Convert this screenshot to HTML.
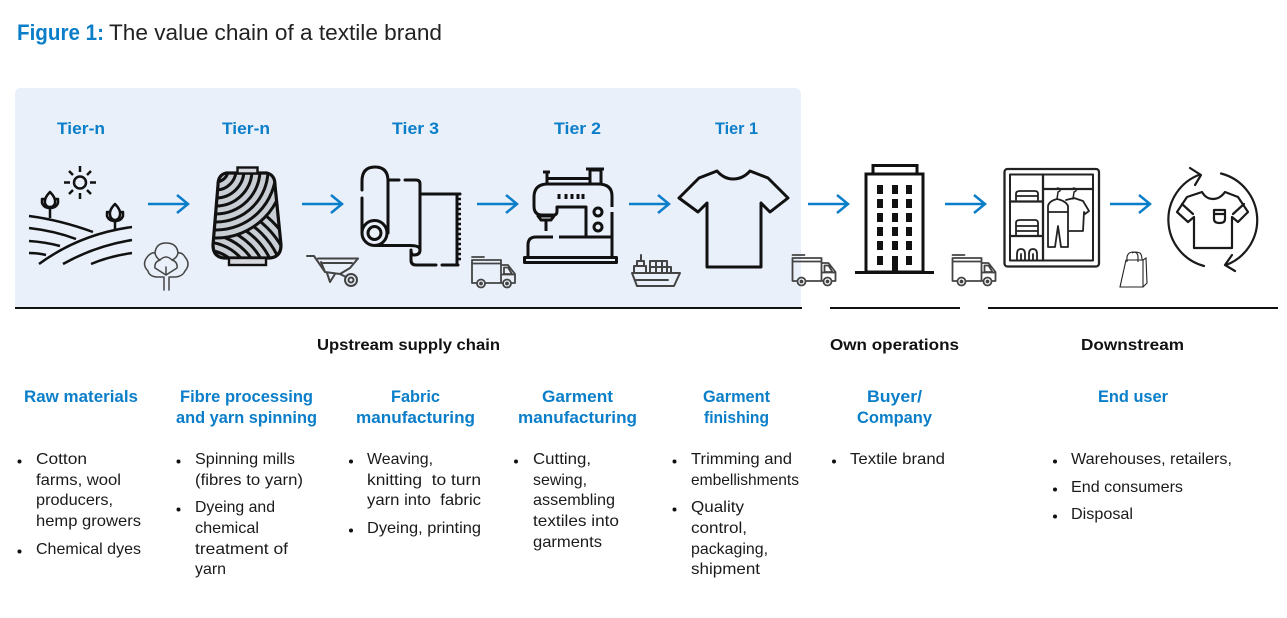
<!DOCTYPE html>
<html><head><meta charset="utf-8"><style>
html,body{margin:0;padding:0;background:#fff}
svg{display:block}
text{font-family:"Liberation Sans",sans-serif;font-size:16px;fill:#1a1a1a}
.b{font-weight:bold;font-size:16px;fill:#111}
.h,.t{fill:#0b7ec9;font-size:16.500px;font-weight:bold}
.i{fill:none;stroke:#111;stroke-width:3;stroke-linecap:round;stroke-linejoin:round}
.s{fill:none;stroke:#444;stroke-width:1.800;stroke-linecap:round;stroke-linejoin:round}
.a{fill:none;stroke:#0b7ec9;stroke-width:2.500}
</style></head><body>
<svg width="1287" height="618" viewBox="0 0 1287 618" xmlns="http://www.w3.org/2000/svg">
<defs>
<clipPath id="sp"><path d="M226 173H267Q275 175 275 185L281 245Q281 257 270 258H224Q213 257 213 245L218 185Q218 175 226 173Z"/></clipPath>
</defs>
<rect width="1287" height="618" fill="#fff"/>
<path d="M15 308V94Q15 88 21 88H794Q801 88 801 95V308Z" fill="#e9f0fa"/>

<text x="17" y="40" textLength="87" lengthAdjust="spacingAndGlyphs" style="font-size:22px;font-weight:bold;fill:#0b7ec9">Figure 1:</text>
<text x="109" y="40" textLength="333" lengthAdjust="spacingAndGlyphs" style="font-size:22px;fill:#222">The value chain of a textile brand</text>

<text class="t" x="57" y="134" textLength="48" lengthAdjust="spacingAndGlyphs">Tier-n</text>
<text class="t" x="222" y="134" textLength="48" lengthAdjust="spacingAndGlyphs">Tier-n</text>
<text class="t" x="392" y="134" textLength="47" lengthAdjust="spacingAndGlyphs">Tier 3</text>
<text class="t" x="554" y="134" textLength="47" lengthAdjust="spacingAndGlyphs">Tier 2</text>
<text class="t" x="715" y="134" textLength="43" lengthAdjust="spacingAndGlyphs">Tier 1</text>

<!-- Lines -->
<path d="M15 308H802M830 308H960M988 308H1278" stroke="#111" stroke-width="2" fill="none"/>

<!-- Arrows -->
<g class="a">
<path d="M148 204H187M177 195L188 204L177 213"/>
<path d="M302 204H341M331 195L342 204L331 213"/>
<path d="M477 204H516M506 195L517 204L506 213"/>
<path d="M629 204H668M658 195L669 204L658 213"/>
<path d="M808 204H847M837 195L848 204L837 213"/>
<path d="M945 204H984M974 195L985 204L974 213"/>
<path d="M1110 204H1149M1139 195L1150 204L1139 213"/>
</g>

<!-- Farm -->
<g class="i" style="stroke-width:2.500;stroke-linecap:butt">
<circle cx="80" cy="182.500" r="6"/>
<path d="M80 166V172M80 193V199M64 182.500H70M90 182.500H96M69 171L73 175M91 171L87 175M69 194L73 190M91 194L87 190"/>
<path d="M29 216Q60 220 93 232M29 228Q55 231 76 239M29 241Q45 242 60 246M29 253Q38 253 46 255"/>
<path d="M39 264Q80 234 132 227M63 264Q95 246 132 240M91 264Q110 256 132 253"/>
<path d="M50 218V207M50 192Q44 198 45 203Q46 207 50 207Q54 207 55 203Q56 198 50 192ZM45 199H42V203Q44 208 50 208Q56 208 58 203V199H55"/>
<path d="M115 230V220M115 204Q109 210 110 215Q111 220 115 220Q119 220 120 215Q121 210 115 204ZM110 212H107V216Q109 221 115 221Q121 221 123 216V212H120"/>
</g>
<!-- Cotton -->
<g class="s" style="stroke-width:1.500">
<path d="M163 277H156Q149 276 148 271Q141 264 148 256Q152 252 155 253Q156 243 166 243Q177 243 178 253Q182 252 185 257Q191 264 185 271Q183 276 176 277H170"/>
<path d="M155 253Q156 258 160 260M178 253Q177 258 172 260M160 260Q166 254 172 260Q178 262 177 268M160 260Q154 262 155 268M155 268L166 275L177 268M166 275V267"/>
<path d="M164 277V290M169 277V290"/>
</g>

<!-- Spool -->
<path d="M226 173H267Q275 175 275 185L281 245Q281 257 270 258H224Q213 257 213 245L218 185Q218 175 226 173Z" fill="#c9cdd4"/>
<g clip-path="url(#sp)" fill="none" stroke="#111" stroke-width="3">
<circle cx="205" cy="290" r="24"/><circle cx="205" cy="290" r="32"/><circle cx="205" cy="290" r="40"/><circle cx="205" cy="290" r="48"/><circle cx="205" cy="290" r="56"/><circle cx="205" cy="290" r="64"/><circle cx="205" cy="290" r="72"/><circle cx="205" cy="290" r="80"/><circle cx="205" cy="290" r="88"/><circle cx="205" cy="290" r="96"/>
<circle cx="216" cy="170" r="68" fill="#c9cdd4"/>
<circle cx="216" cy="170" r="60"/><circle cx="216" cy="170" r="52"/><circle cx="216" cy="170" r="44"/><circle cx="216" cy="170" r="36"/><circle cx="216" cy="170" r="28"/><circle cx="216" cy="170" r="20"/><circle cx="216" cy="170" r="12"/>
</g>
<path d="M226 173H267Q275 175 275 185L281 245Q281 257 270 258H224Q213 257 213 245L218 185Q218 175 226 173Z" fill="none" stroke="#111" stroke-width="3.200"/>
<rect x="237.500" y="167.500" width="20" height="6" fill="#d5d8df" stroke="#111" stroke-width="2.400"/>
<rect x="229" y="258" width="37" height="7" fill="#d5d8df" stroke="#111" stroke-width="2.400"/>

<!-- Barrow -->
<g class="s" style="stroke-width:2">
<path d="M307 256H314L325 272M318 258.500H358L350 268L340 274L325 272L321 262M322 263H352"/>
<path d="M327 273L330 282L335 274M340 274L346 277"/>
<circle cx="351" cy="280" r="6"/><circle cx="351" cy="280" r="2.500"/>
</g>

<!-- Fabric roll -->
<g class="i">
<path d="M362 190V181Q362 167 375 167Q388 167 388 181V233M362 198V233"/>
<circle cx="374.500" cy="233" r="12.500"/><circle cx="374.500" cy="233" r="6.500"/>
<path d="M388 180H399M405 180H416Q420 180 420 184V250"/>
<path d="M375 245.500H410Q420 245.500 420 250Q420 255 414 255Q411 255 411 250V260Q411 265 416 265H436M442 265H458"/>
<path d="M420 194H460M457 194V265"/>
</g>
<path d="M456 199H461M456 204H461M456 209H461M456 214H461M456 219H461M456 224H461M456 229H461M456 234H461M456 239H461M456 244H461M456 249H461M456 254H461M456 259H461" stroke="#111" stroke-width="2.500" fill="none"/>

<!-- Trucks -->
<g class="s" id="tr">
<path d="M472 257H484M472 283V260H501V283M472 283H477M485 283H503M472 263.500H501M501 265H508L515 274V283H511M501 274.500H515M504 267.500H508L512 274H504Z"/>
<circle cx="481" cy="283.500" r="4"/><circle cx="507" cy="283.500" r="4"/><circle cx="481" cy="283.500" r="1"/><circle cx="507" cy="283.500" r="1"/>
</g>
<g class="s" transform="translate(320.500,-2)">
<path d="M472 257H484M472 283V260H501V283M472 283H477M485 283H503M472 263.500H501M501 265H508L515 274V283H511M501 274.500H515M504 267.500H508L512 274H504Z"/>
<circle cx="481" cy="283.500" r="4"/><circle cx="507" cy="283.500" r="4"/><circle cx="481" cy="283.500" r="1"/><circle cx="507" cy="283.500" r="1"/>
</g>
<g class="s" transform="translate(480.500,-2)">
<path d="M472 257H484M472 283V260H501V283M472 283H477M485 283H503M472 263.500H501M501 265H508L515 274V283H511M501 274.500H515M504 267.500H508L512 274H504Z"/>
<circle cx="481" cy="283.500" r="4"/><circle cx="507" cy="283.500" r="4"/><circle cx="481" cy="283.500" r="1"/><circle cx="507" cy="283.500" r="1"/>
</g>

<!-- Sewing machine -->
<g class="i" style="stroke-linecap:butt">
<rect x="524.500" y="257.500" width="92" height="5"/>
<path d="M528 257V245Q528 237 536 237H553M559 237H612"/>
<path d="M612 257V212M612 207V196Q612 184 598 184H548Q534 184 534 197V206Q534 215 542 215H554Q557 215 557 211V207H586V237"/>
<path d="M547 184V173M543 172H550M547 178.500H590M590 183V170H601V183M586 169H604"/>
<path d="M538 216H554L551 220H541ZM546 220V231"/>
<path d="M559 194V199M566 194V199M572 194V199M578 194V199M583 194V199"/>
<circle cx="598" cy="212" r="4"/><circle cx="598" cy="227" r="4"/>
</g>
<!-- Ship -->
<g class="s" style="stroke-width:2">
<path d="M632 273H680L674 286H637Z"/>
<path d="M636 280H668"/>
<path d="M634 273V266H646V273M637 266V261H644V266M641 261V255"/>
<rect x="650" y="261" width="6" height="12"/><rect x="656" y="261" width="6" height="12"/><rect x="662" y="261" width="5" height="12"/><path d="M650 267H667M667 267H671V273"/>
</g>

<!-- T-shirt -->
<path class="i" d="M717 171Q724 179 733 179Q743 179 750 171L768 178L788 198L770 212L761 203V267H707V203L698 212L679 198L699 178Z"/>

<!-- Building -->
<g fill="none" stroke="#111" stroke-width="3">
<rect x="866" y="174" width="57" height="98"/>
<rect x="873" y="165.500" width="44" height="8.500"/>
</g>
<path d="M855 272.500H934" stroke="#111" stroke-width="3"/>
<g fill="#111">
<rect x="877" y="185" width="6" height="9"/><rect x="892" y="185" width="6" height="9"/><rect x="906" y="185" width="6" height="9"/>
<rect x="877" y="199" width="6" height="9"/><rect x="892" y="199" width="6" height="9"/><rect x="906" y="199" width="6" height="9"/>
<rect x="877" y="213" width="6" height="9"/><rect x="892" y="213" width="6" height="9"/><rect x="906" y="213" width="6" height="9"/>
<rect x="877" y="227" width="6" height="9"/><rect x="892" y="227" width="6" height="9"/><rect x="906" y="227" width="6" height="9"/>
<rect x="877" y="241" width="6" height="9"/><rect x="892" y="241" width="6" height="9"/><rect x="906" y="241" width="6" height="9"/>
<rect x="877" y="256" width="6" height="9"/><rect x="892" y="256" width="6" height="16"/><rect x="906" y="256" width="6" height="9"/>
</g>

<!-- Wardrobe -->
<g class="i" style="stroke-width:2.300;stroke:#222">
<rect x="1004.500" y="169" width="94.500" height="97.500" rx="3"/>
<rect x="1010" y="174.500" width="83" height="86" style="stroke-width:2"/>
<path d="M1043 174.500V260.500M1010 201.500H1043M1010 236H1043M1043 189H1093"/>
<path d="M1016 200V194Q1016 191 1020 191H1035Q1038 191 1038 194V200M1016 196H1038" style="stroke-width:1.800"/>
<path d="M1016 235V223Q1016 220 1020 220H1035Q1038 220 1038 223V235M1016 226H1038M1016 231H1038" style="stroke-width:1.800"/>
<path d="M1017 260V254Q1017 249 1021 249Q1025 249 1025 254V260M1029 260V254Q1029 249 1033 249Q1037 249 1037 254V260M1021 254V260M1033 254V260" style="stroke-width:1.800"/>
<path d="M1057 199Q1049 201 1048 206V247H1055L1058 226L1061 247H1068V206Q1066 201 1057 199ZM1048 212H1068" style="stroke-width:1.800"/>
<path d="M1057 199L1058 192Q1061 191 1060 189Q1058 187 1056 189M1073 199L1074 192Q1077 191 1076 189Q1074 187 1072 189" style="stroke-width:1.500"/>
<path d="M1066 200L1074 198L1083 201L1089 211L1085 214L1084 212L1083 231H1069" style="stroke-width:1.800"/>
</g>

<!-- Bag -->
<g fill="none" stroke="#222" stroke-width="1.100">
<path d="M1126 260H1143V287H1120Z"/>
<path d="M1143 260L1146 258L1147 283L1143 287M1127 262V257Q1128 252 1133 252Q1138 252 1138 257V262M1132 253Q1135 251 1140 253Q1142 255 1142 260"/>
</g>

<!-- Recycle shirt -->
<g fill="none" stroke="#1a1a1a" stroke-width="2.200" stroke-linecap="round" stroke-linejoin="round">
<path d="M1204 266A48 48 0 0 1 1200 174.500"/>
<path d="M1190 168L1201 175L1195 185"/>
<path d="M1221 173.500A48 48 0 0 1 1226 265"/>
<path d="M1232 255L1225 265L1235 271"/>
<path d="M1202 192L1187 197L1177 212L1188 222L1194 217V248H1232V217L1238 222L1248 212L1238 197L1225 192Q1220 199 1213 199Q1206 199 1202 192Z"/>
<path d="M1182 204L1193 214M1244 204L1233 214"/>
<path d="M1214 210H1225V219Q1225 223 1219.500 223Q1214 223 1214 219ZM1214 214H1225"/>
</g>

<!-- Section headers -->
<text class="b" x="317" y="350" textLength="183" lengthAdjust="spacingAndGlyphs">Upstream supply chain</text>
<text class="b" x="830" y="350" textLength="129" lengthAdjust="spacingAndGlyphs">Own operations</text>
<text class="b" x="1081" y="350" textLength="103" lengthAdjust="spacingAndGlyphs">Downstream</text>

<!-- Blue headers -->
<text class="h" x="24" y="402" textLength="114" lengthAdjust="spacingAndGlyphs">Raw materials</text>
<text class="h" x="180" y="402" textLength="133" lengthAdjust="spacingAndGlyphs">Fibre processing</text>
<text class="h" x="176" y="423" textLength="141" lengthAdjust="spacingAndGlyphs">and yarn spinning</text>
<text class="h" x="391" y="402" textLength="49" lengthAdjust="spacingAndGlyphs">Fabric</text>
<text class="h" x="356" y="423" textLength="119" lengthAdjust="spacingAndGlyphs">manufacturing</text>
<text class="h" x="542" y="402" textLength="71" lengthAdjust="spacingAndGlyphs">Garment</text>
<text class="h" x="518" y="423" textLength="119" lengthAdjust="spacingAndGlyphs">manufacturing</text>
<text class="h" x="703" y="402" textLength="67" lengthAdjust="spacingAndGlyphs">Garment</text>
<text class="h" x="704" y="423" textLength="65" lengthAdjust="spacingAndGlyphs">finishing</text>
<text class="h" x="867" y="402" textLength="55" lengthAdjust="spacingAndGlyphs">Buyer/</text>
<text class="h" x="857" y="423" textLength="75" lengthAdjust="spacingAndGlyphs">Company</text>
<text class="h" x="1098" y="402" textLength="70" lengthAdjust="spacingAndGlyphs">End user</text>

<!-- Bullets -->
<g fill="#111">
<circle cx="19.500" cy="461.500" r="2"/><circle cx="19.500" cy="551.500" r="2"/>
<circle cx="178.500" cy="461.500" r="2"/><circle cx="178.500" cy="509.500" r="2"/>
<circle cx="351" cy="461.500" r="2"/><circle cx="351" cy="530.500" r="2"/>
<circle cx="516" cy="461.500" r="2"/>
<circle cx="674.500" cy="461.500" r="2"/><circle cx="674.500" cy="509.500" r="2"/>
<circle cx="834" cy="461.500" r="2"/>
<circle cx="1055" cy="461.500" r="2"/><circle cx="1055" cy="489.500" r="2"/><circle cx="1055" cy="516.500" r="2"/>
</g>

<!-- Body -->
<text x="36" y="464" textLength="51" lengthAdjust="spacingAndGlyphs">Cotton</text>
<text x="36" y="485" textLength="85" lengthAdjust="spacingAndGlyphs">farms, wool</text>
<text x="36" y="505" textLength="77" lengthAdjust="spacingAndGlyphs">producers,</text>
<text x="36" y="526" textLength="105" lengthAdjust="spacingAndGlyphs">hemp growers</text>
<text x="36" y="554" textLength="105" lengthAdjust="spacingAndGlyphs">Chemical dyes</text>

<text x="195" y="464" textLength="100" lengthAdjust="spacingAndGlyphs">Spinning mills</text>
<text x="195" y="485" textLength="108" lengthAdjust="spacingAndGlyphs">(fibres to yarn)</text>
<text x="195" y="512" textLength="80" lengthAdjust="spacingAndGlyphs">Dyeing and</text>
<text x="195" y="533" textLength="64" lengthAdjust="spacingAndGlyphs">chemical</text>
<text x="195" y="554" textLength="93" lengthAdjust="spacingAndGlyphs">treatment of</text>
<text x="195" y="574" textLength="31" lengthAdjust="spacingAndGlyphs">yarn</text>

<text x="367" y="464" textLength="66" lengthAdjust="spacingAndGlyphs">Weaving,</text>
<text x="367" y="485" textLength="114" lengthAdjust="spacingAndGlyphs" xml:space="preserve">knitting  to turn</text>
<text x="367" y="505" textLength="114" lengthAdjust="spacingAndGlyphs" xml:space="preserve">yarn into  fabric</text>
<text x="367" y="533" textLength="114" lengthAdjust="spacingAndGlyphs">Dyeing, printing</text>

<text x="533" y="464" textLength="58" lengthAdjust="spacingAndGlyphs">Cutting,</text>
<text x="533" y="485" textLength="54" lengthAdjust="spacingAndGlyphs">sewing,</text>
<text x="533" y="505" textLength="82" lengthAdjust="spacingAndGlyphs">assembling</text>
<text x="533" y="526" textLength="86" lengthAdjust="spacingAndGlyphs">textiles into</text>
<text x="533" y="547" textLength="69" lengthAdjust="spacingAndGlyphs">garments</text>

<text x="691" y="464" textLength="101" lengthAdjust="spacingAndGlyphs">Trimming and</text>
<text x="691" y="485" textLength="108" lengthAdjust="spacingAndGlyphs">embellishments</text>
<text x="691" y="512" textLength="53" lengthAdjust="spacingAndGlyphs">Quality</text>
<text x="691" y="533" textLength="56" lengthAdjust="spacingAndGlyphs">control,</text>
<text x="691" y="554" textLength="77" lengthAdjust="spacingAndGlyphs">packaging,</text>
<text x="691" y="574" textLength="69" lengthAdjust="spacingAndGlyphs">shipment</text>

<text x="850" y="464" textLength="95" lengthAdjust="spacingAndGlyphs">Textile brand</text>

<text x="1071" y="464" textLength="161" lengthAdjust="spacingAndGlyphs">Warehouses, retailers,</text>
<text x="1071" y="492" textLength="112" lengthAdjust="spacingAndGlyphs">End consumers</text>
<text x="1071" y="519" textLength="62" lengthAdjust="spacingAndGlyphs">Disposal</text>
</svg>
</body></html>
